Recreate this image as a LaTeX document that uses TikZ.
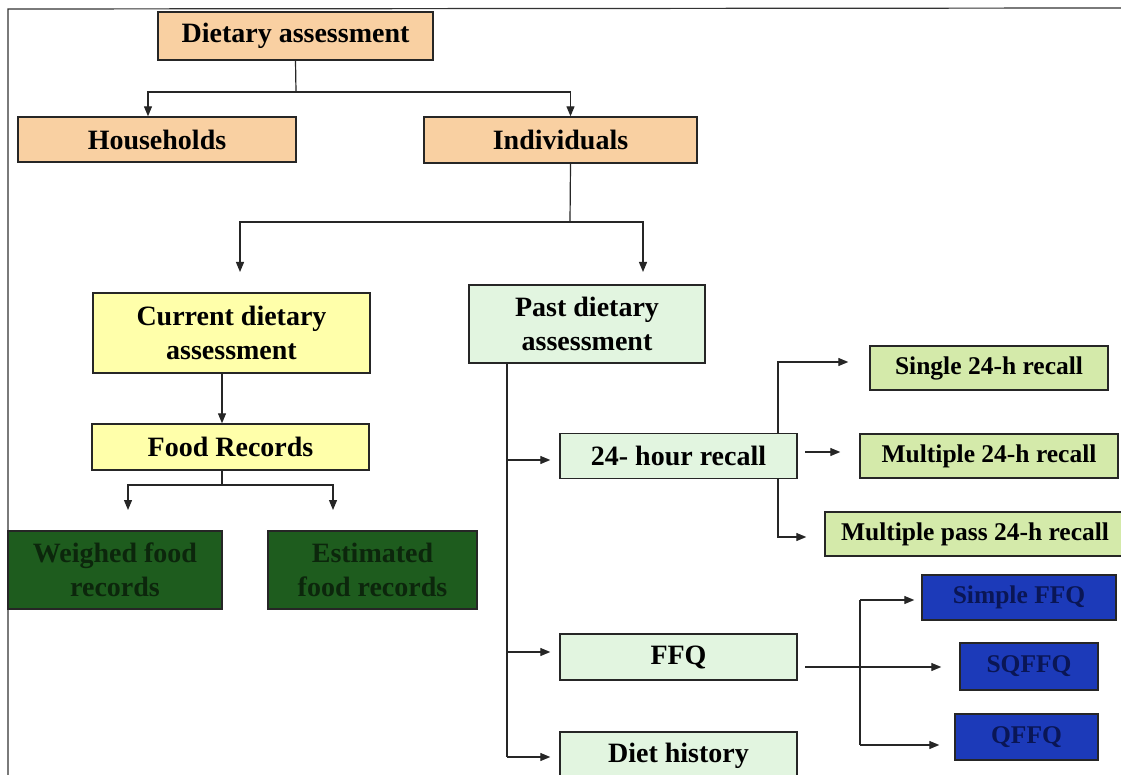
\documentclass[tikz,border=0pt]{standalone}
\usepackage{fontspec}
\setmainfont{Liberation Serif}
\usetikzlibrary{arrows.meta}
\definecolor{peach}{RGB}{249,208,162}
\definecolor{lyellow}{RGB}{255,255,170}
\definecolor{mint}{RGB}{226,245,224}
\definecolor{olive}{RGB}{212,234,170}
\definecolor{dgreen}{RGB}{30,92,30}
\definecolor{dgreentext}{RGB}{12,38,12}
\definecolor{fblue}{RGB}{28,58,185}
\definecolor{fbluetext}{RGB}{10,22,85}
\tikzset{
  box/.style={draw=black!85, line width=1.4pt, rectangle, inner sep=0pt, align=center,
    font=\fontsize{28}{34}\selectfont\bfseries},
  sbox/.style={box, font=\fontsize{25.5}{30}\selectfont\bfseries},
  conn/.style={line width=1.2pt, draw=black!85},
  arr/.style={conn, -{Triangle[length=10pt,width=8pt]}},
}
\begin{document}
\begin{tikzpicture}[x=1pt,y=-1pt]
\useasboundingbox (0,0) rectangle (1121,775);
\clip (0,0) rectangle (1121,775);
\fill[white] (0,0) rectangle (1121,775);
% frame
\draw[line width=1.2pt, black!80] (8,775) -- (8,9) -- (1121,8);
% nodes
\node[box, fill=peach, minimum width=275, minimum height=48] (da) at (295.5,36) {Dietary assessment};
\node[box, fill=peach, minimum width=278, minimum height=45] (hh) at (157,139.5) {Households};
\node[box, fill=peach, minimum width=273, minimum height=46] (ind) at (560.5,140) {Individuals};
\node[box, fill=lyellow, minimum width=277, minimum height=80] (cur) at (231.5,333) {Current dietary\\assessment};
\node[box, fill=mint, minimum width=236, minimum height=78] (past) at (587,324) {Past dietary\\assessment};
\node[box, fill=lyellow, minimum width=277, minimum height=46] (fr) at (230.5,447) {Food Records};
\node[box, fill=dgreen, text=dgreentext, minimum width=214, minimum height=78] (wfr) at (115,570) {Weighed food\\records};
\node[box, fill=dgreen, text=dgreentext, minimum width=209, minimum height=78] (efr) at (372.5,570) {Estimated\\food records};
\node[box, fill=mint, minimum width=237, minimum height=45] (rec) at (678.5,456) {24- hour recall};
\node[sbox, fill=olive, minimum width=238, minimum height=44] (s24) at (989,368) {Single 24-h recall};
\node[sbox, fill=olive, minimum width=258, minimum height=44] (m24) at (989,456) {Multiple 24-h recall};
\node[sbox, fill=olive, minimum width=300, minimum height=44] (mp24) at (975,534) {Multiple pass 24-h recall};
\node[box, fill=mint, minimum width=237, minimum height=46] (ffq) at (678.5,657) {FFQ};
\node[box, fill=mint, minimum width=237, minimum height=60] (dh) at (678.5,762) {};
\node[font=\fontsize{28}{34}\selectfont\bfseries] (dht) at (678.5,756) {Diet history};
\node[sbox, fill=fblue, text=fbluetext, minimum width=194, minimum height=45] (sffq) at (1019,597.5) {Simple FFQ};
\node[sbox, fill=fblue, text=fbluetext, minimum width=138, minimum height=47] (sqffq) at (1029,666.5) {SQFFQ};
\node[sbox, fill=fblue, text=fbluetext, minimum width=143, minimum height=46] (qffq) at (1026.5,737) {QFFQ};
% connectors: top
\coordinate (j1) at (296,92);
\draw[conn] (da.south) -- (j1);
\draw[arr] (j1) -| ([xshift=-9]hh.north);
\draw[arr] (j1) -| ([xshift=10]ind.north);
\coordinate (j2) at (570,222);
\coordinate (a1) at (240,272);
\coordinate (a2) at (643,272);
\draw[conn] ([xshift=10]ind.south) -- (j2);
\draw[arr] (j2) -| (a1);
\draw[arr] (j2) -| (a2);
% current branch
\draw[arr] ([xshift=-9.5]cur.south) -- ([xshift=-8.5]fr.north);
\coordinate (j3) at (222,485);
\coordinate (a3) at (128,510);
\coordinate (a4) at (333,510);
\draw[conn] ([xshift=-8.5]fr.south) -- (j3);
\draw[arr] (j3) -| (a3);
\draw[arr] (j3) -| (a4);
% past branch
\coordinate (p0) at (507,363);
\coordinate (p1) at (507,460);
\coordinate (p2) at (507,652);
\coordinate (p3) at (507,757);
\draw[conn] (p0) -- (p3);
\draw[arr] (p1) -- ([xshift=-9]rec.west |- p1);
\draw[arr] (p2) -- ([xshift=-9]ffq.west |- p2);
\draw[arr] (p3) -- ([xshift=-9]dh.west |- p3);
% 24h recall branches
\coordinate (r1) at (778,362);
\coordinate (r2) at (778,537);
\draw[arr] ([xshift=99.5]rec.north) -- (r1) -- ([xshift=-21]s24.west |- r1);
\coordinate (r3) at (805,452);
\draw[arr] (r3) -- ([xshift=-19]m24.west |- r3);
\draw[arr] ([xshift=99.5]rec.south) -- (r2) -- ([xshift=-18]mp24.west |- r2);
% FFQ branches
\coordinate (f0) at (805,667);
\draw[arr] (f0) -- ([xshift=-18]sqffq.west |- f0);
\coordinate (f1) at (860,600);
\coordinate (f2) at (860,745);
\draw[conn] (f1) -- (f2);
\draw[arr] (f1) -- ([xshift=-7]sffq.west |- f1);
\draw[arr] (f2) -- ([xshift=-15]qffq.west |- f2);
\end{tikzpicture}
\end{document}
